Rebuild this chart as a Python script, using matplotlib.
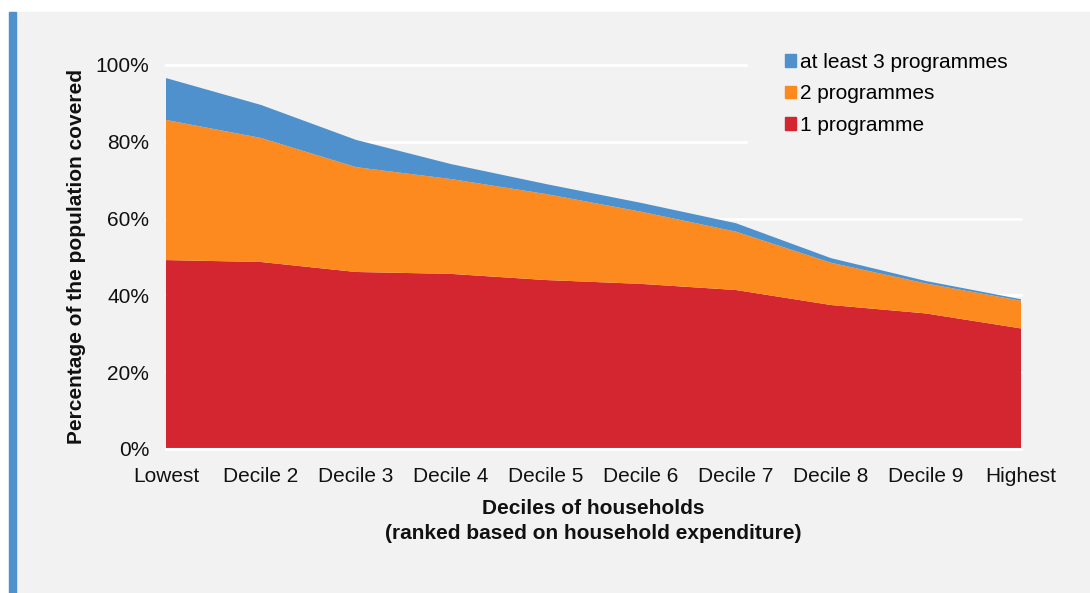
import numpy as np
import matplotlib
matplotlib.use("Agg")
from matplotlib import pyplot as plt
from matplotlib.patches import Rectangle, Patch

plt.rcParams['font.family'] = ['Liberation Sans', 'DejaVu Sans']

deciles = ['Lowest', 'Decile 2', 'Decile 3', 'Decile 4', 'Decile 5',
           'Decile 6', 'Decile 7', 'Decile 8', 'Decile 9', 'Highest']
one_prog = [49.2, 48.7, 46.1, 45.6, 44.0, 43.0, 41.4, 37.5, 35.3, 31.4]
two_prog = [36.5, 32.3, 27.3, 24.7, 22.4, 18.8, 15.2, 11.0, 7.8, 7.2]
three_prog = [10.9, 8.6, 7.1, 3.9, 2.6, 2.3, 2.2, 1.2, 0.65, 0.4]

RED = '#d32630'
ORANGE = '#fd8a1e'
BLUE = '#4f91cd'
BG = '#f2f2f2'
FS = 15

fig = plt.figure(figsize=(10.9, 5.93), dpi=100)
fig.patch.set_facecolor('white')
# grey panel with blue strip on the left
fig.patches.append(Rectangle((9/1090, 0), 1 - 9/1090, (593-12)/593,
                             transform=fig.transFigure, color=BG, zorder=-2))
fig.patches.append(Rectangle((9/1090, 0), 7/1090, (593-12)/593,
                             transform=fig.transFigure, color=BLUE, zorder=-1))

ax = fig.add_axes([166/1090, (593-449)/593, (1021-166)/1090, 384/593])
ax.set_facecolor(BG)

x = np.arange(len(deciles))
y = np.vstack([one_prog, two_prog, three_prog]) / 100.0
ax.stackplot(x, y, colors=[RED, ORANGE, BLUE], zorder=2)

ax.set_xlim(0, 9)
ax.set_ylim(0, 1.0)
ax.set_yticks(np.arange(0, 1.01, 0.2))
ax.set_yticklabels(['%d%%' % v for v in range(0, 101, 20)])
ax.set_xticks(x)
ax.set_xticklabels(deciles)
ax.grid(axis='y', color='white', linewidth=2, zorder=0)
for g in ax.get_ygridlines():
    g.set_clip_on(False)
ax.set_axisbelow(True)
for s in ['top', 'right', 'left']:
    ax.spines[s].set_visible(False)
ax.spines['bottom'].set_color('white')
ax.spines['bottom'].set_linewidth(1.5)
ax.tick_params(length=0, labelsize=FS, colors='#111111')
ax.tick_params(axis='y', pad=12)
ax.tick_params(axis='x', pad=13)

ax.set_ylabel('Percentage of the population covered', fontsize=FS,
              fontweight='bold', color='#111111')
ax.yaxis.set_label_coords(-0.094, 0.5)
ax.set_xlabel('Deciles of households\n(ranked based on household expenditure)',
              fontsize=FS, fontweight='bold', color='#111111', linespacing=1.4)
ax.xaxis.set_label_coords(0.5, -0.13)

handles = [Patch(color=BLUE, label='at least 3 programmes'),
           Patch(color=ORANGE, label='2 programmes'),
           Patch(color=RED, label='1 programme')]
leg = ax.legend(handles=handles, loc='upper left',
                bbox_to_anchor=((738-166)/855, (449-6)/384),
                frameon=True, facecolor=BG, edgecolor=BG, framealpha=1,
                fontsize=FS, handlelength=0.55, handleheight=0.55,
                handletextpad=0.2, labelspacing=0.6, borderpad=1.75)

fig.savefig('out.png', dpi=100)
